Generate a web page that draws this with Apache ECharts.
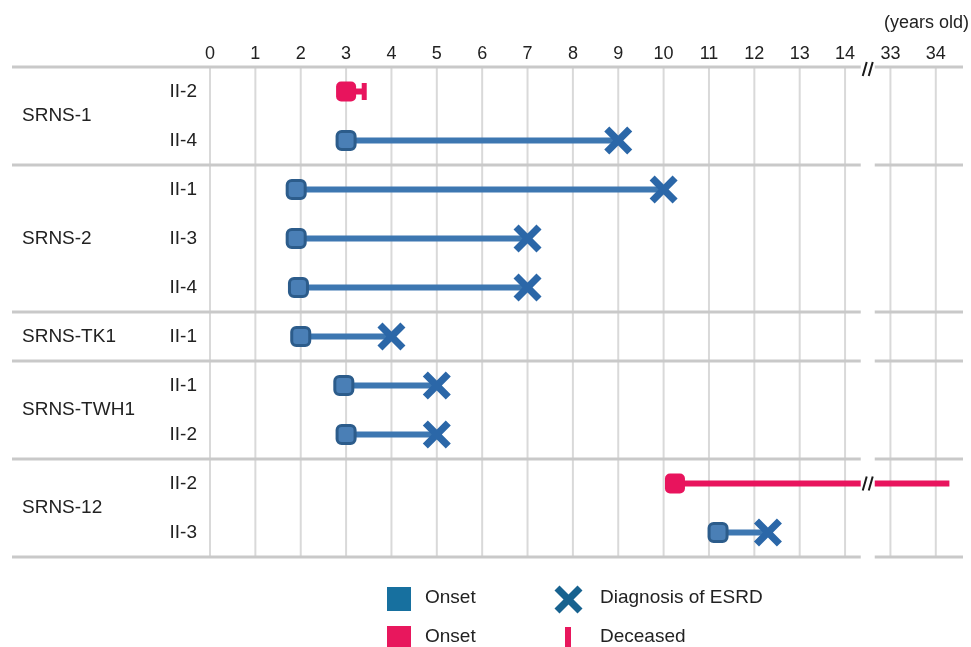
<!DOCTYPE html>
<html>
<head>
<meta charset="utf-8">
<script src="https://cdn.jsdelivr.net/npm/echarts@6/dist/echarts.min.js"></script>
<style>
  html, body { margin: 0; padding: 0; background: #fff; }
  #chart { width: 971px; height: 647px; }
</style>
</head>
<body>
<div id="chart"></div>
<script>
// Families and their patients, listed top to bottom
const families = ['SRNS-1', 'SRNS-2', 'SRNS-TK1', 'SRNS-TWH1', 'SRNS-12'];
const familySize = [2, 3, 1, 2, 2];
const patients = ['II-2', 'II-4', 'II-1', 'II-3', 'II-4', 'II-1', 'II-1', 'II-2', 'II-2', 'II-3'];

// Age in years at disease onset and at the last recorded event
const onsetAge = [3.0, 3.0, 1.9, 1.9, 1.95, 2.0, 2.95, 3.0, 10.25, 11.2];
const lastAge  = [3.4, 9.0, 10.0, 7.0, 7.0, 4.0, 5.0, 5.0, 34.3, 12.3];
// Event at lastAge: ESRD diagnosis, death, or still followed up
const lastEvent = ['Deceased', 'ESRD', 'ESRD', 'ESRD', 'ESRD', 'ESRD', 'ESRD', 'ESRD', 'Follow-up', 'ESRD'];

// Age ticks along the top; ages 15-32 are cut out of the axis
const ageTicks = [0, 1, 2, 3, 4, 5, 6, 7, 8, 9, 10, 11, 12, 13, 14, 33, 34];
const CUT_FROM = 14.5, CUT_TO = 32.5;

const toAxis = a => (a <= CUT_FROM ? a : a - (CUT_TO - CUT_FROM));
const toAge = v => (v <= CUT_FROM ? v : v + (CUT_TO - CUT_FROM));

const BLUE_LINE = '#3d77b1';
const BLUE_FILL = '#4a7fb6';
const BLUE_EDGE = '#2c5c8b';
const BLUE_X = '#2b67a8';
const RED = '#e8145d';
const RULE = '#c9c9c9';
const GRID = '#d9d9d9';
const TEXT = '#222';
const FONT = "'Liberation Sans', Arial, sans-serif";

const rowIds = patients.map((_, i) => 'row' + i);
const firstRow = [];
familySize.reduce((acc, n) => { firstRow.push(acc); return acc + n; }, 0);

const isFatalCourse = i => lastEvent[i] !== 'ESRD';
const rows = patients.map((_, i) => i);

const X_PATH = 'path://M0,1.8 L1.8,0 L5,3.2 L8.2,0 L10,1.8 L6.8,5 L10,8.2 L8.2,10 L5,6.8 L1.8,10 L0,8.2 L3.2,5 Z';

function breakMark(x, y) {
  const s = { stroke: '#1a1a1a', lineWidth: 2 };
  return {
    type: 'group',
    children: [
      { type: 'line', shape: { x1: x - 5, y1: y + 7, x2: x - 1, y2: y - 7 }, style: s },
      { type: 'line', shape: { x1: x + 1, y1: y + 7, x2: x + 5, y2: y - 7 }, style: s }
    ]
  };
}

// Horizontal rule spanning the label column and the plot, broken at the axis cut
function ruleAt(api, params, y, withMark) {
  const cs = params.coordSys;
  const bx = api.coord([CUT_FROM, 0])[0];
  const style = { stroke: RULE, lineWidth: 3 };
  const parts = [
    { type: 'line', shape: { x1: 12, y1: y, x2: bx - 7, y2: y }, style },
    { type: 'line', shape: { x1: bx + 7, y1: y, x2: cs.x + cs.width, y2: y }, style }
  ];
  if (withMark) parts.push(breakMark(bx, y + 2));
  return parts;
}

function renderFamily(params, api) {
  const i = params.dataIndex;
  const r0 = api.value(0), r1 = api.value(1);
  const band = api.size([0, 1])[1];
  const top = api.coord([0, r0])[1] - band / 2;
  const bottom = api.coord([0, r1])[1] + band / 2;
  const children = [];
  if (i === 0) children.push(...ruleAt(api, params, top, true));
  children.push(...ruleAt(api, params, bottom, false));
  children.push({
    type: 'text',
    style: {
      x: 22, y: (top + bottom) / 2, text: families[i],
      fill: TEXT, font: '19px ' + FONT, verticalAlign: 'middle', align: 'left'
    }
  });
  return { type: 'group', children };
}

function renderGridLine(params, api) {
  const cs = params.coordSys;
  const x = api.coord([api.value(0), 0])[0];
  return {
    type: 'line',
    shape: { x1: x, y1: cs.y, x2: x, y2: cs.y + cs.height },
    style: { stroke: GRID, lineWidth: 2 }
  };
}

function renderSpan(params, api) {
  const row = api.value(2);
  const a = api.coord([api.value(0), row]);
  const b = api.coord([api.value(1), row]);
  const style = { stroke: isFatalCourse(params.dataIndex) ? RED : BLUE_LINE, lineWidth: 6 };
  if (api.value(0) < CUT_FROM && api.value(1) > CUT_FROM) {
    const bx = api.coord([CUT_FROM, row])[0];
    return {
      type: 'group',
      children: [
        { type: 'line', shape: { x1: a[0], y1: a[1], x2: bx - 7, y2: a[1] }, style },
        { type: 'line', shape: { x1: bx + 7, y1: b[1], x2: b[0], y2: b[1] }, style },
        breakMark(bx, a[1])
      ]
    };
  }
  return { type: 'line', shape: { x1: a[0], y1: a[1], x2: b[0], y2: b[1] }, style };
}

const chart = echarts.init(document.getElementById('chart'), null, { renderer: 'canvas' });

const legendFont = '19px ' + FONT;

chart.setOption({
  animation: false,
  backgroundColor: '#fff',
  grid: { left: 210, right: 8, top: 67, bottom: 90 },
  xAxis: {
    type: 'value',
    position: 'top',
    min: 0,
    max: 16.6,
    interval: 1,
    axisLine: { show: false },
    axisTick: { show: false },
    splitLine: { show: false },
    axisLabel: {
      margin: 4,
      fontSize: 18,
      fontFamily: FONT,
      color: TEXT,
      showMaxLabel: false,
      formatter: v => {
        if (Math.abs(v - Math.round(v)) > 1e-6) return '';
        const age = toAge(Math.round(v));
        return ageTicks.indexOf(age) >= 0 ? String(age) : '';
      }
    }
  },
  yAxis: {
    type: 'category',
    inverse: true,
    data: rowIds,
    axisLine: { show: false },
    axisTick: { show: false },
    splitLine: { show: false },
    axisLabel: {
      margin: 13,
      fontSize: 19,
      fontFamily: FONT,
      color: TEXT,
      formatter: (v, idx) => patients[idx]
    }
  },
  series: [
    {
      name: 'grid',
      type: 'custom',
      z: 1,
      clip: false,
      silent: true,
      renderItem: renderGridLine,
      encode: { x: 0, y: 1 },
      data: ageTicks.map(a => [toAxis(a), 0])
    },
    {
      name: 'families',
      type: 'custom',
      z: 1,
      clip: false,
      silent: true,
      renderItem: renderFamily,
      encode: { x: 0, y: 1 },
      data: families.map((_, i) => [firstRow[i], firstRow[i] + familySize[i] - 1])
    },
    {
      name: 'course',
      type: 'custom',
      z: 2,
      clip: false,
      renderItem: renderSpan,
      encode: { x: [0, 1], y: 2 },
      data: rows.map(i => [toAxis(onsetAge[i]), toAxis(lastAge[i]), i])
    },
    {
      name: 'Onset',
      type: 'scatter',
      z: 4,
      symbol: 'roundRect',
      symbolSize: 18,
      itemStyle: { color: BLUE_FILL, borderColor: BLUE_EDGE, borderWidth: 3, opacity: 1 },
      data: rows.filter(i => !isFatalCourse(i)).map(i => [toAxis(onsetAge[i]), i])
    },
    {
      name: 'Onset (fatal course)',
      type: 'scatter',
      z: 4,
      symbol: 'roundRect',
      symbolSize: 20,
      itemStyle: { color: RED, opacity: 1 },
      data: rows.filter(i => isFatalCourse(i)).map(i => [toAxis(onsetAge[i]), i])
    },
    {
      name: 'Diagnosis of ESRD',
      type: 'scatter',
      z: 4,
      symbol: X_PATH,
      symbolSize: 28,
      itemStyle: { color: BLUE_X, opacity: 1 },
      data: rows.filter(i => lastEvent[i] === 'ESRD').map(i => [toAxis(lastAge[i]), i])
    },
    {
      name: 'Deceased',
      type: 'scatter',
      z: 4,
      symbol: 'rect',
      symbolSize: [5, 17],
      itemStyle: { color: RED, opacity: 1 },
      data: rows.filter(i => lastEvent[i] === 'Deceased').map(i => [toAxis(lastAge[i]), i])
    }
  ],
  graphic: [
    {
      type: 'text', right: 2, top: 14,
      style: { text: '(years old)', fill: TEXT, font: '18px ' + FONT }
    },
    // Key, drawn as a two-by-two block under the plot
    { type: 'rect', shape: { x: 387, y: 587, width: 24, height: 24 }, style: { fill: '#17709f' } },
    { type: 'line', shape: { x1: 557, y1: 588, x2: 580, y2: 611 }, style: { stroke: '#17628f', lineWidth: 7 } },
    { type: 'line', shape: { x1: 580, y1: 588, x2: 557, y2: 611 }, style: { stroke: '#17628f', lineWidth: 7 } },
    { type: 'rect', shape: { x: 387, y: 626, width: 24, height: 24 }, style: { fill: '#e8175d' } },
    { type: 'rect', shape: { x: 565, y: 627, width: 6, height: 22 }, style: { fill: '#e8175d' } },
    { type: 'text', style: { x: 425, y: 598, text: 'Onset', fill: TEXT, font: legendFont, verticalAlign: 'middle' } },
    { type: 'text', style: { x: 600, y: 598, text: 'Diagnosis of ESRD', fill: TEXT, font: legendFont, verticalAlign: 'middle' } },
    { type: 'text', style: { x: 425, y: 637, text: 'Onset', fill: TEXT, font: legendFont, verticalAlign: 'middle' } },
    { type: 'text', style: { x: 600, y: 637, text: 'Deceased', fill: TEXT, font: legendFont, verticalAlign: 'middle' } }
  ]
});
</script>
</body>
</html>
